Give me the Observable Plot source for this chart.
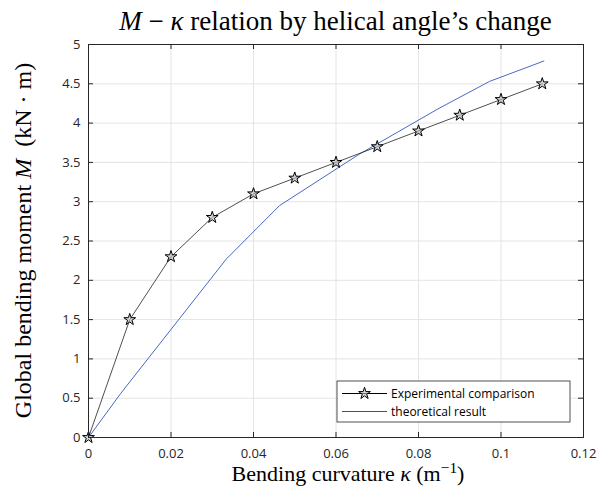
<!DOCTYPE html>
<html>
<head>
<meta charset="utf-8">
<script src="https://cdn.jsdelivr.net/npm/d3@7"></script>
<script src="https://cdn.jsdelivr.net/npm/@observablehq/plot@0.6"></script>
<style>
  html, body { margin: 0; padding: 0; background: #fff; }
  #chart svg { display: block; }
</style>
</head>
<body>
<div id="chart"></div>
<script>
// Experimental M–κ measurements
const curvature = [0, 0.01, 0.02, 0.03, 0.04, 0.05, 0.06, 0.07, 0.08, 0.09, 0.10, 0.11];
const moment    = [0, 1.5, 2.3, 2.8, 3.1, 3.3, 3.5, 3.7, 3.9, 4.1, 4.3, 4.5];

// Theoretical curve
const theoryCurvature = [0, 0.0078, 0.0334, 0.0463, 0.0655, 0.0847, 0.0972, 0.1104];
const theoryMoment    = [0, 0.56, 2.27, 2.95, 3.60, 4.18, 4.53, 4.79];

// Axis ticks
const xTicks = [0, 0.02, 0.04, 0.06, 0.08, 0.10, 0.12];
const yTicks = [0, 0.5, 1, 1.5, 2, 2.5, 3, 3.5, 4, 4.5, 5];

const seriesNames = ["Experimental comparison", "theoretical result"];

const experimental = curvature.map((k, i) => ({k, m: moment[i]}));
const theoretical = theoryCurvature.map((k, i) => ({k, m: theoryMoment[i]}));

const W = 600, H = 490;
const mL = 88, mR = 17, mT = 44, mB = 53;
const innerH = H - mT - mB;
const innerW = W - mL - mR;
const tickLen = 5;
const axisColor = "#262626";
const gridColor = "#e4e4e4";
const blue = "#4a68c4";
const starR = 3.7;
const sans = "'Open Sans', 'Noto Sans', sans-serif";
const serif = "'Liberation Serif', 'DejaVu Serif', serif";
const fmt = d => String(+d.toFixed(2));

const chart = Plot.plot({
  width: W,
  height: H,
  marginLeft: mL,
  marginRight: mR,
  marginTop: mT,
  marginBottom: mB,
  style: {background: "#fff", fontFamily: sans},
  x: {domain: [0, 0.12]},
  y: {domain: [0, 5]},
  marks: [
    Plot.gridX(xTicks, {stroke: gridColor, strokeOpacity: 1}),
    Plot.gridY(yTicks, {stroke: gridColor, strokeOpacity: 1}),
    Plot.line(theoretical, {x: "k", y: "m", stroke: blue, strokeWidth: 1}),
    Plot.line(experimental, {x: "k", y: "m", stroke: "#222", strokeWidth: 0.8}),
    Plot.dot(experimental, {x: "k", y: "m", symbol: "star", r: starR, stroke: "#000", strokeWidth: 1, fill: "#bdbdbd", fillOpacity: 0.6}),
    Plot.frame({stroke: axisColor, strokeWidth: 1}),
    // inward ticks on all four sides
    Plot.tickX(xTicks, {x: d => d, stroke: axisColor, insetTop: innerH - tickLen}),
    Plot.tickX(xTicks, {x: d => d, stroke: axisColor, insetBottom: innerH - tickLen}),
    Plot.tickY(yTicks, {y: d => d, stroke: axisColor, insetRight: innerW - tickLen}),
    Plot.tickY(yTicks, {y: d => d, stroke: axisColor, insetLeft: innerW - tickLen}),
    Plot.axisX(xTicks, {tickSize: 0, tickPadding: 11, tickFormat: fmt, fontSize: 13, fill: axisColor, label: null}),
    Plot.axisY(yTicks, {tickSize: 0, tickPadding: 8, tickFormat: fmt, fontSize: 13, fill: axisColor, label: null})
  ]
});

document.getElementById("chart").appendChild(chart);

const svg = d3.select(chart);

// rich text helper: parts = [[text, style], ...]
function richText(g, parts) {
  for (const [t, s] of parts) {
    const sp = g.append("tspan").text(t);
    if (s === "i") sp.attr("font-style", "italic");
    if (s === "sup") sp.attr("font-size", "0.7em").attr("baseline-shift", "super");
  }
  return g;
}

// title
richText(
  svg.append("text")
    .attr("x", mL + innerW / 2).attr("y", 30)
    .attr("text-anchor", "middle")
    .attr("font-family", serif).attr("font-size", 27).attr("fill", "#000"),
  [["M", "i"], [" \u2212 ", ""], ["\u03BA", "i"], [" relation by helical angle\u2019s change", ""]]
);

// x-axis label
richText(
  svg.append("text")
    .attr("x", 348).attr("y", 481)
    .attr("text-anchor", "middle")
    .attr("font-family", serif).attr("font-size", 22).attr("fill", "#000"),
  [["Bending curvature ", ""], ["\u03BA", "i"], [" (m", ""], ["\u22121", "sup"], [")", ""]]
);

// y-axis label
richText(
  svg.append("text")
    .attr("transform", `translate(31,${mT + innerH / 2}) rotate(-90)`)
    .attr("text-anchor", "middle")
    .attr("font-family", serif).attr("font-size", 24).attr("fill", "#000"),
  [["Global bending moment ", ""], ["M", "i"], ["\u2002(kN \u00B7 m)", ""]]
);

// legend
const lg = svg.append("g").attr("font-family", sans).attr("font-size", 12).attr("text-anchor", "start");
const lx = 337, ly = 381, lw = 233, lh = 41;
lg.append("rect").attr("x", lx).attr("y", ly).attr("width", lw).attr("height", lh)
  .attr("fill", "#fff").attr("stroke", axisColor).attr("stroke-width", 0.8);
const rows = [ly + 12.5, ly + 30.5];
lg.append("line").attr("x1", lx + 5).attr("x2", lx + 50).attr("y1", rows[0]).attr("y2", rows[0])
  .attr("stroke", "#000").attr("stroke-width", 1);
lg.append("path").attr("d", d3.symbol(d3.symbolStar, starR * starR * Math.PI)())
  .attr("transform", `translate(${lx + 27.5},${rows[0]})`)
  .attr("stroke", "#000").attr("fill", "#bdbdbd").attr("fill-opacity", 0.6);
lg.append("line").attr("x1", lx + 5).attr("x2", lx + 50).attr("y1", rows[1]).attr("y2", rows[1])
  .attr("stroke", "#2d4fb0").attr("stroke-width", 1);
seriesNames.forEach((name, i) => {
  lg.append("text").attr("x", lx + 54).attr("y", rows[i]).attr("dy", "0.35em")
    .attr("fill", "#000").text(name);
});
</script>
</body>
</html>
